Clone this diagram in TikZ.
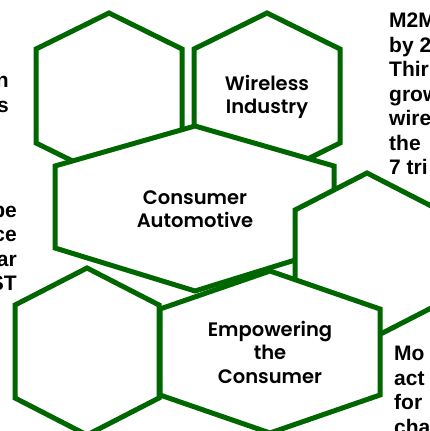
\documentclass[tikz,border=0pt]{standalone}
\usepackage{fontspec}
\setmainfont{Liberation Sans}
\newfontfamily\hexfont{Poppins}[BoldFont={Poppins SemiBold}]
\usepackage{xcolor}
\definecolor{hexgreen}{RGB}{0,102,0}

\begin{document}
\begin{tikzpicture}[x=1pt,y=1pt]
\tikzstyle{every node}+=[inner sep=0pt]
\tikzstyle{hex}=[draw=hexgreen,line width=5pt,fill=white,line join=miter]
\tikzstyle{hexlabel}=[align=center,font=\hexfont\bfseries\fontsize{19.5}{23.5}\selectfont]
\tikzstyle{sidetext}=[font=\bfseries\fontsize{21}{24.5}\selectfont]
\useasboundingbox (0,0) rectangle (430,-431);
\draw [hex] (109,-13) -- (182,-49) -- (182,-143) -- (109,-179) -- (36,-143) -- (36,-49) -- cycle;
\draw [hex] (267,-13) -- (340,-49) -- (340,-143) -- (267,-179) -- (194,-143) -- (194,-49) -- cycle;
\node [hexlabel] (wireless) at (267,-97) {Wireless\\Industry};
\draw [hex] (195,-126) -- (334,-166) -- (334,-248) -- (195,-291) -- (55,-248) -- (55,-166) -- cycle;
\node [hexlabel] (automotive) at (195,-209) {Consumer\\Automotive};
\draw [hex] (367,-173) -- (439,-210) -- (439,-304) -- (367,-341) -- (295,-304) -- (295,-210) -- cycle;
\draw [hex] (87,-268) -- (159,-305) -- (159,-398) -- (87,-435) -- (15,-398) -- (15,-305) -- cycle;
\draw [hex] (270,-271) -- (380,-309) -- (380,-395) -- (270,-433) -- (160,-395) -- (160,-309) -- cycle;
\node [hexlabel] (empowering) at (270,-352) {Empowering\\the\\Consumer};
\node [sidetext,align=left,anchor=north west] (rightup) at (389,-12.7) {M2M\\by 2\\Thir\\grow\\wire\\the\\7 tri};
\node [sidetext,align=left,anchor=north west] (rightdown) at (394,-346) {Mo\\act\\for\\cha};
\node [sidetext,align=right,anchor=north east] (leftup) at (9,-76) {n\\s};
\node [sidetext,align=right,anchor=north east] (leftdown) at (17,-201.7) {be\\ce\\ar\\ST};
\end{tikzpicture}
\end{document}
